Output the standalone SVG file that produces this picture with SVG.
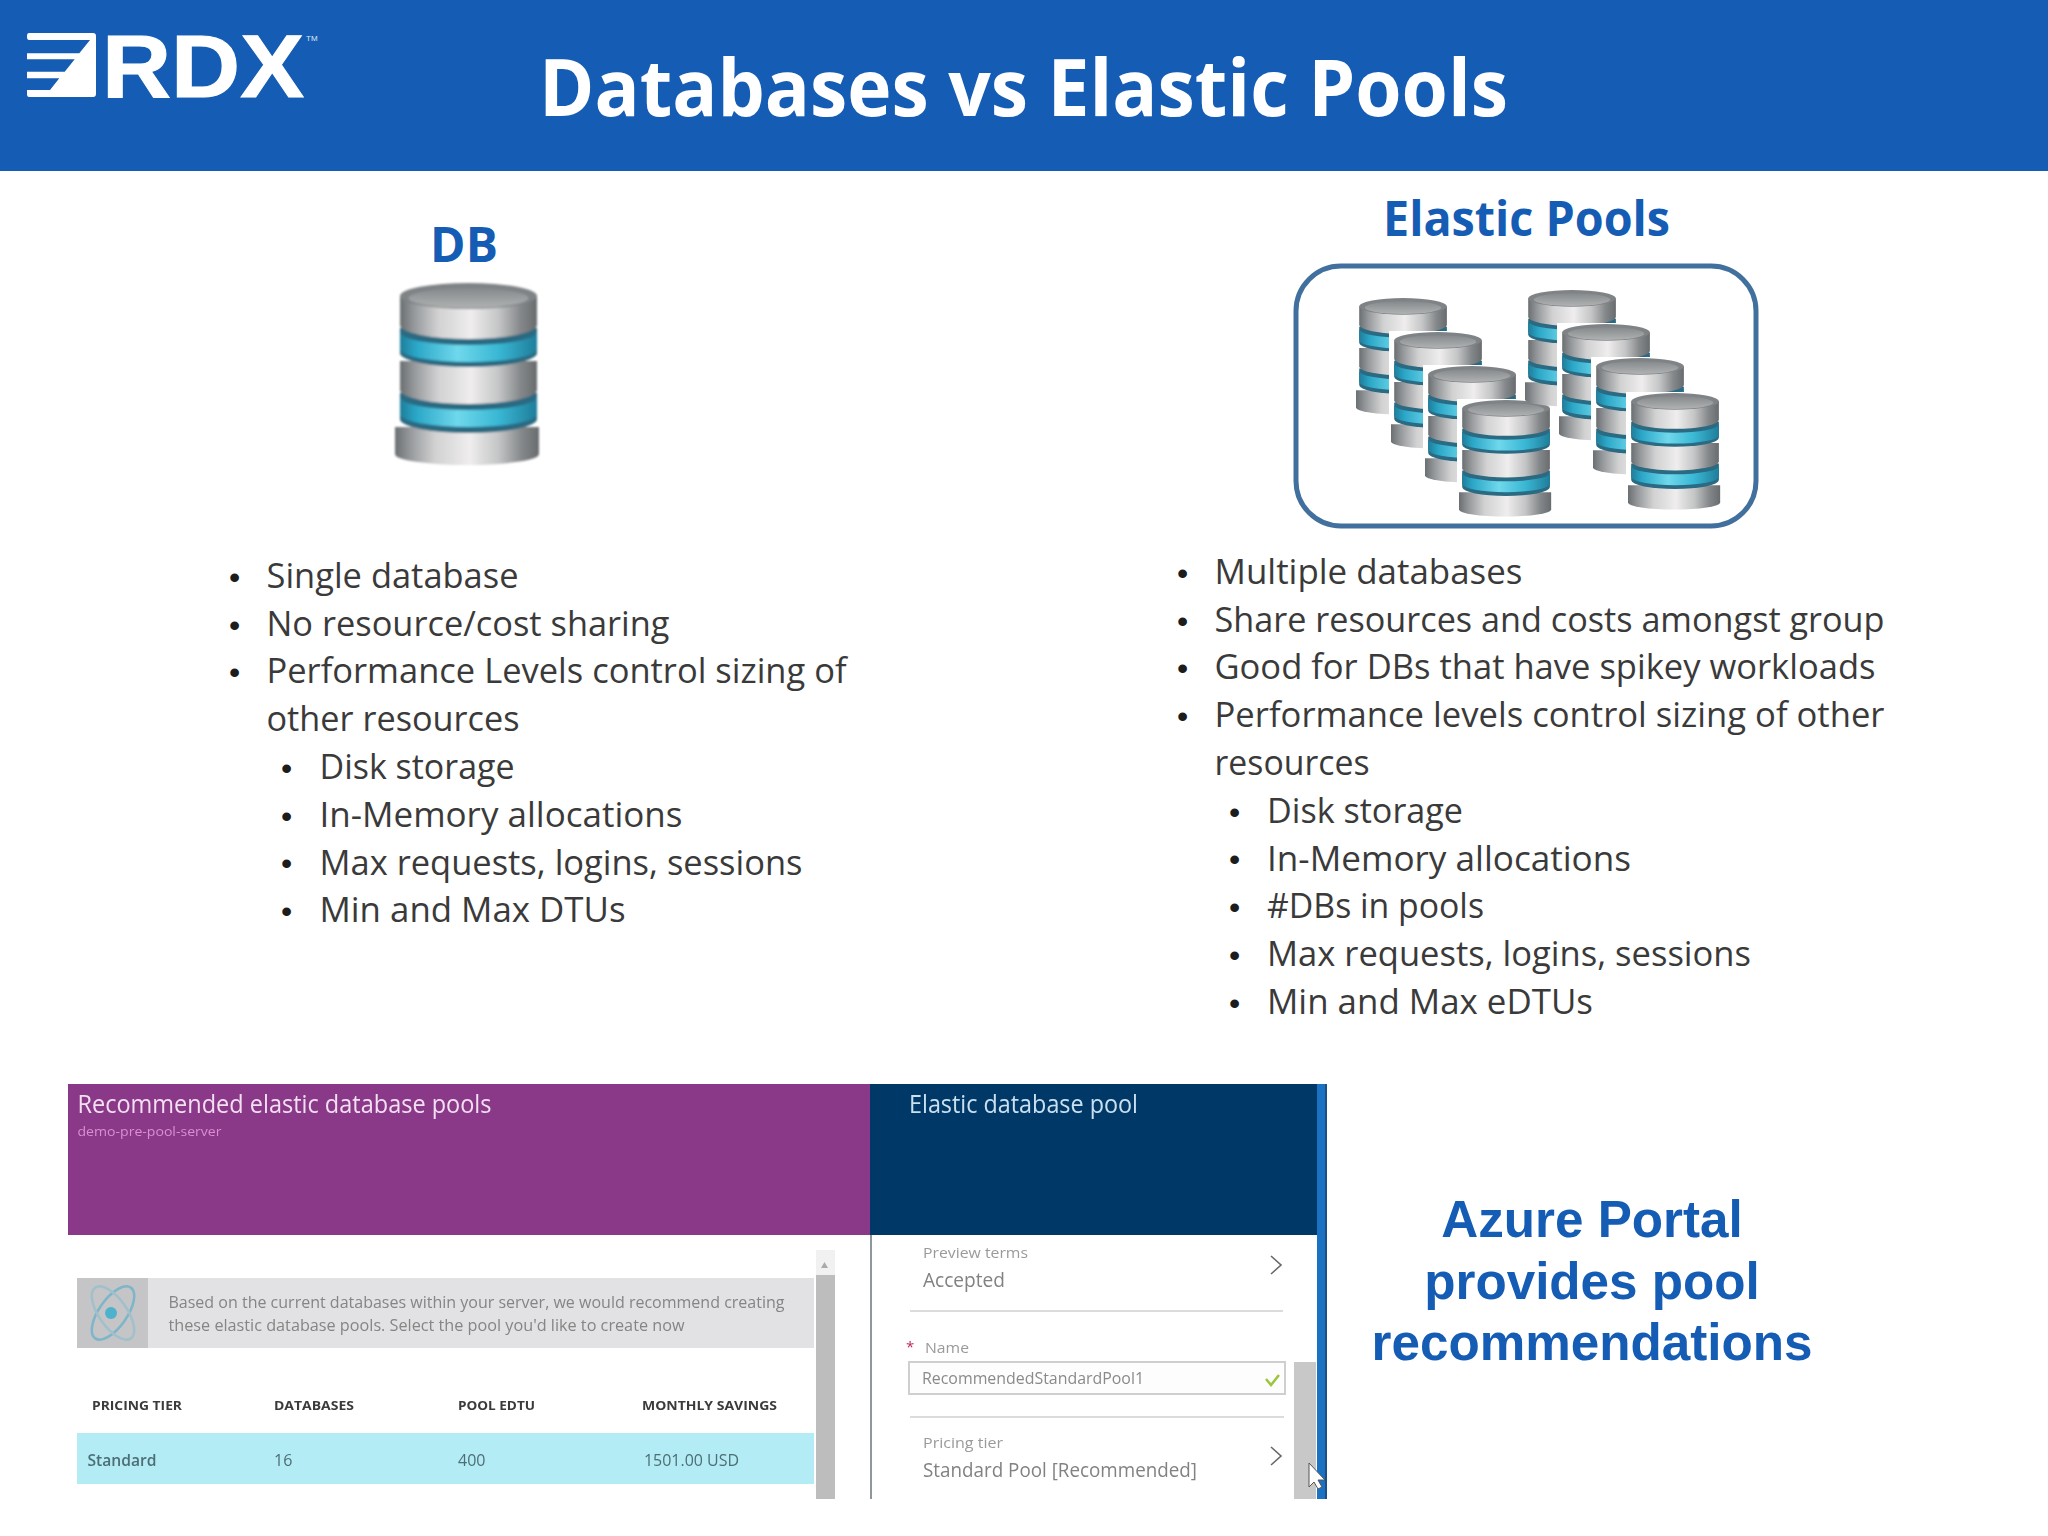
<svg xmlns="http://www.w3.org/2000/svg" xmlns:xlink="http://www.w3.org/1999/xlink" width="2048" height="1536" viewBox="0 0 2048 1536">
<style>
.b{font-family:"Open Sans","Noto Sans",sans-serif;font-size:34.500px;fill:#3a3a3a}
.d{font-family:"Liberation Sans",Arial,sans-serif;font-size:32px;fill:#1c1c1c}
.h{font-family:"Open Sans","Noto Sans",sans-serif;font-weight:700;fill:#155cb4}
.az{font-family:"Liberation Sans",Arial,sans-serif;font-weight:700;font-size:51.200px;fill:#155cb4;text-anchor:middle}
.s{font-family:"Open Sans","Noto Sans",sans-serif}
.th{font-size:13px;font-weight:700;fill:#3b3b3b}
.td{font-size:16px;fill:#4d6e75}
.g{fill:#858585}
.chev{fill:none;stroke:#666;stroke-width:1.600}
.div{stroke:#dcdcdc;stroke-width:2}
</style>
<defs>
<linearGradient id="sil" x1="0" x2="1" y1="0" y2="0">
<stop offset="0" stop-color="#6a6f71"/><stop offset=".1" stop-color="#94979a"/><stop offset=".28" stop-color="#d2d2d2"/><stop offset=".52" stop-color="#efeded"/><stop offset=".72" stop-color="#c4c5c6"/><stop offset=".88" stop-color="#85888a"/><stop offset="1" stop-color="#686c6e"/>
</linearGradient>
<linearGradient id="tea" x1="0" x2="1" y1="0" y2="0">
<stop offset="0" stop-color="#1f7d9a"/><stop offset=".12" stop-color="#2ba7c8"/><stop offset=".42" stop-color="#6fd8ec"/><stop offset=".72" stop-color="#39b7d4"/><stop offset="1" stop-color="#1f7d9a"/>
</linearGradient>
<linearGradient id="cap" x1="0" x2="0" y1="0" y2="1">
<stop offset="0" stop-color="#85898b"/><stop offset="1" stop-color="#b0b2b3"/>
</linearGradient>
<filter id="soft" x="-5%" y="-5%" width="110%" height="110%"><feGaussianBlur stdDeviation="0.800"/></filter>
<filter id="soft2" x="-5%" y="-5%" width="110%" height="110%"><feGaussianBlur stdDeviation="0.450"/></filter>
<g id="cyl">
<path d="M0 144V171A72 11 0 0 0 144 171V144Z" fill="url(#sil)"/>
<path d="M5 110V136A68.500 14 0 0 0 142 136V110Z" fill="#2b6a82"/>
<path d="M5 114V131A68.500 13 0 0 0 142 131V114A68.500 13 0 0 1 5 114Z" fill="url(#tea)"/>
<path d="M5 78V107A68.500 14 0 0 0 142 107V78Z" fill="url(#sil)"/>
<path d="M5 45V70A68.500 14 0 0 0 142 70V45Z" fill="#2b6a82"/>
<path d="M5 49V66A68.500 13 0 0 0 142 66V49A68.500 13 0 0 1 5 49Z" fill="url(#tea)"/>
<path d="M5 13V42A68.500 14 0 0 0 142 42V13Z" fill="url(#sil)"/>
<ellipse cx="73.500" cy="13" rx="68.500" ry="13" fill="#7f8386"/>
<ellipse cx="73.500" cy="15" rx="60" ry="10" fill="url(#cap)"/>
</g>
</defs>
<rect width="2048" height="1536" fill="#fff"/>

<g id="header">
<rect width="2048" height="171" fill="#155cb4"/>
<path fill="#fff" d="M29 33H93Q96 33 96 36V94Q96 97 93 97H29Q27 97 27 94V90H50L59.300 78.300H27V71.700H64.700L74.700 59.300H27V53.300H79.300L90 40H29Q27 40 27 37V36Q27 33 29 33Z"/>
<text x="102" y="97" textLength="202" lengthAdjust="spacingAndGlyphs" font-family="Liberation Sans, Arial, sans-serif" font-weight="700" font-size="89" fill="#fff" stroke="#fff" stroke-width="1">RDX</text>
<text x="306" y="41" font-family="Liberation Sans, Arial, sans-serif" font-size="8" fill="#dfe8f5">TM</text>
<text x="539" y="116" textLength="969" lengthAdjust="spacingAndGlyphs" font-family="Open Sans, Noto Sans, sans-serif" font-weight="700" font-size="79" fill="#fff">Databases vs Elastic Pools</text>
</g>

<g id="db-column">
<text class="h" x="464" y="262" font-size="48" text-anchor="middle">DB</text>
<use id="db-icon" href="#cyl" x="395" y="283" filter="url(#soft)"/>
<g class="d">
<text x="229" y="588">•</text><text x="229" y="636">•</text><text x="229" y="683">•</text>
<text x="281" y="779">•</text><text x="281" y="827">•</text><text x="281" y="874">•</text><text x="281" y="922">•</text>
</g>
<g class="b">
<text x="266.500" y="588" textLength="252" lengthAdjust="spacingAndGlyphs">Single database</text>
<text x="266.500" y="636" textLength="403" lengthAdjust="spacingAndGlyphs">No resource/cost sharing</text>
<text x="266.500" y="683" textLength="580" lengthAdjust="spacingAndGlyphs">Performance Levels control sizing of</text>
<text x="266.500" y="731" textLength="253" lengthAdjust="spacingAndGlyphs">other resources</text>
<text x="319.500" y="779" textLength="195" lengthAdjust="spacingAndGlyphs">Disk storage</text>
<text x="319.500" y="827" textLength="363" lengthAdjust="spacingAndGlyphs">In-Memory allocations</text>
<text x="319.500" y="875" textLength="483" lengthAdjust="spacingAndGlyphs">Max requests, logins, sessions</text>
<text x="319.500" y="922" textLength="306" lengthAdjust="spacingAndGlyphs">Min and Max DTUs</text>
</g>
</g>

<g id="pool-column">
<text class="h" x="1383" y="236" font-size="48" textLength="287" lengthAdjust="spacingAndGlyphs">Elastic Pools</text>
<rect x="1296" y="266" width="460" height="260" rx="45" fill="#fff" stroke="#41709f" stroke-width="5"/>
<g id="pool-a" filter="url(#soft2)">
<use href="#cyl" transform="translate(1356 298) scale(.64 .64)"/>
<g><rect x="1389" y="331" width="96" height="122" fill="#fff"/><use href="#cyl" transform="translate(1391 332) scale(.64 .64)"/></g>
<g><rect x="1423" y="365" width="96" height="122" fill="#fff"/><use href="#cyl" transform="translate(1425 366) scale(.64 .64)"/></g>
<g><rect x="1457" y="399" width="96" height="122" fill="#fff"/><use href="#cyl" transform="translate(1459 400) scale(.64 .64)"/></g>
</g>
<g id="pool-b" filter="url(#soft2)">
<use href="#cyl" transform="translate(1525 290) scale(.64 .64)"/>
<g><rect x="1557" y="323" width="96" height="122" fill="#fff"/><use href="#cyl" transform="translate(1559 324) scale(.64 .64)"/></g>
<g><rect x="1591" y="357" width="96" height="122" fill="#fff"/><use href="#cyl" transform="translate(1593 358) scale(.64 .64)"/></g>
<g><rect x="1626" y="392" width="96" height="122" fill="#fff"/><use href="#cyl" transform="translate(1628 393) scale(.64 .64)"/></g>
</g>
<g class="d">
<text x="1177" y="584">•</text><text x="1177" y="632">•</text><text x="1177" y="679">•</text><text x="1177" y="727">•</text>
<text x="1229" y="823">•</text><text x="1229" y="870">•</text><text x="1229" y="918">•</text><text x="1229" y="966">•</text><text x="1229" y="1014">•</text>
</g>
<g class="b">
<text x="1214.500" y="584" textLength="308" lengthAdjust="spacingAndGlyphs">Multiple databases</text>
<text x="1214.500" y="632" textLength="670" lengthAdjust="spacingAndGlyphs">Share resources and costs amongst group</text>
<text x="1214.500" y="679" textLength="661" lengthAdjust="spacingAndGlyphs">Good for DBs that have spikey workloads</text>
<text x="1214.500" y="727" textLength="670" lengthAdjust="spacingAndGlyphs">Performance levels control sizing of other</text>
<text x="1214.500" y="775" textLength="155" lengthAdjust="spacingAndGlyphs">resources</text>
<text x="1267" y="823" textLength="196" lengthAdjust="spacingAndGlyphs">Disk storage</text>
<text x="1267" y="871" textLength="364" lengthAdjust="spacingAndGlyphs">In-Memory allocations</text>
<text x="1267" y="918" textLength="217" lengthAdjust="spacingAndGlyphs">#DBs in pools</text>
<text x="1267" y="966" textLength="484" lengthAdjust="spacingAndGlyphs">Max requests, logins, sessions</text>
<text x="1267" y="1014" textLength="326" lengthAdjust="spacingAndGlyphs">Min and Max eDTUs</text>
</g>
</g>

<g id="portal-screenshot" class="s" filter="url(#soft2)">
<rect x="68" y="1084" width="803" height="151" fill="#8a3888"/>
<rect x="870" y="1084" width="448" height="151" fill="#033768"/>
<rect x="1317" y="1084" width="8" height="415" fill="#1a72c2"/>
<rect x="1325" y="1084" width="2" height="415" fill="#1c4f86"/>
<rect x="870" y="1235" width="2" height="264" fill="#8d979d"/>
<text x="77.500" y="1113" textLength="414" lengthAdjust="spacingAndGlyphs" font-size="25" fill="#f3dff2">Recommended elastic database pools</text>
<text x="77.500" y="1136" textLength="144" lengthAdjust="spacingAndGlyphs" font-size="13" fill="#d98fd2">demo-pre-pool-server</text>
<text x="909" y="1113" textLength="229" lengthAdjust="spacingAndGlyphs" font-size="25" fill="#c9e0f0">Elastic database pool</text>

<rect x="816" y="1250" width="19" height="25" fill="#f1f1f1"/>
<rect x="816" y="1275" width="19" height="224" fill="#bdbdbd"/>
<path d="M821 1268L824.500 1262L828 1268Z" fill="#aaa"/>
<rect x="77" y="1278" width="737" height="70" fill="#e2e1e3"/>
<rect x="77" y="1278" width="71" height="70" fill="#c5c5c7"/>
<g fill="none" stroke="#7bb6c8" stroke-width="2.500">
<ellipse cx="113" cy="1313" rx="14" ry="31" transform="rotate(35 113 1313)"/>
<ellipse cx="113" cy="1313" rx="14" ry="31" transform="rotate(-35 113 1313)" stroke="#a0c0cc"/>
</g>
<circle cx="111" cy="1313" r="6" fill="#4fb2cc"/>
<text class="g" x="168.500" y="1308" textLength="616" lengthAdjust="spacingAndGlyphs" font-size="16">Based on the current databases within your server, we would recommend creating</text>
<text class="g" x="168.500" y="1331" textLength="516" lengthAdjust="spacingAndGlyphs" font-size="16">these elastic database pools. Select the pool you'd like to create now</text>
<text class="th" x="92" y="1410" textLength="90" lengthAdjust="spacingAndGlyphs">PRICING TIER</text>
<text class="th" x="274" y="1410" textLength="80" lengthAdjust="spacingAndGlyphs">DATABASES</text>
<text class="th" x="458" y="1410" textLength="77" lengthAdjust="spacingAndGlyphs">POOL EDTU</text>
<text class="th" x="642" y="1410" textLength="135" lengthAdjust="spacingAndGlyphs">MONTHLY SAVINGS</text>
<rect x="77" y="1433" width="737" height="51" fill="#b3ecf5"/>
<text class="td" x="87.500" y="1466" textLength="69" lengthAdjust="spacingAndGlyphs" font-weight="600" fill="#31565e">Standard</text>
<text class="td" x="274" y="1466">16</text>
<text class="td" x="458" y="1466">400</text>
<text class="td" x="644" y="1466" textLength="95" lengthAdjust="spacingAndGlyphs">1501.00 USD</text>

<text x="923" y="1258" textLength="105" lengthAdjust="spacingAndGlyphs" font-size="15" fill="#9a9a9a">Preview terms</text>
<text x="923" y="1287" textLength="82" lengthAdjust="spacingAndGlyphs" font-size="20" fill="#828282">Accepted</text>
<path class="chev" d="M1271 1256L1281 1265L1271 1274"/>
<path class="div" d="M910 1311H1283M910 1417H1284"/>
<text x="906" y="1352" font-size="15" fill="#c2285a">*</text>
<text x="925" y="1353" textLength="44" lengthAdjust="spacingAndGlyphs" font-size="15" fill="#9a9a9a">Name</text>
<rect x="909" y="1362" width="376" height="32" fill="#fdfdfd" stroke="#cfcfcf" stroke-width="2"/>
<text x="922" y="1384" textLength="222" lengthAdjust="spacingAndGlyphs" font-size="16" fill="#8a8a8a">RecommendedStandardPool1</text>
<path d="M1266 1379L1271 1385L1279 1375" fill="none" stroke="#9cc53a" stroke-width="2.500"/>
<text x="923" y="1448" textLength="80" lengthAdjust="spacingAndGlyphs" font-size="15" fill="#9a9a9a">Pricing tier</text>
<text x="923" y="1477" textLength="274" lengthAdjust="spacingAndGlyphs" font-size="20" fill="#828282">Standard Pool [Recommended]</text>
<path class="chev" d="M1271 1447L1281 1456L1271 1465"/>
<rect x="1294" y="1362" width="22" height="137" fill="#c8c8c8"/>
<path d="M1309 1463V1487L1314 1482L1318 1489L1322 1487L1318 1480L1325 1480Z" fill="#fff" stroke="#555" stroke-width="1"/>
</g>

<g id="azure-label">
<text class="az" x="1592" y="1237">Azure Portal</text>
<text class="az" x="1592" y="1299">provides pool</text>
<text class="az" x="1592" y="1360">recommendations</text>
</g>
</svg>
